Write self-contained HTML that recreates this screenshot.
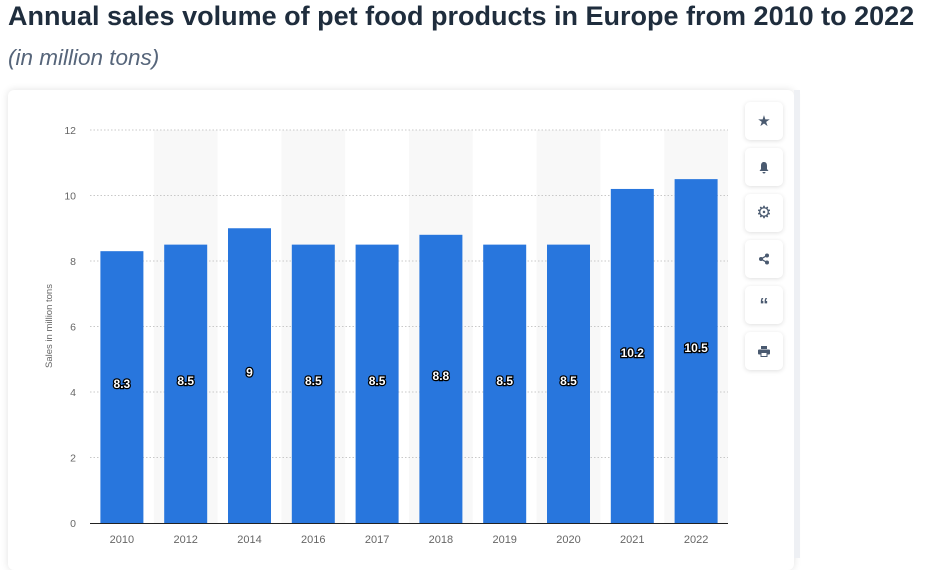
<!DOCTYPE html>
<html><head><meta charset="utf-8"><style>
body{margin:0;width:927px;height:558px;overflow:hidden;background:#fff;font-family:"Liberation Sans",sans-serif;position:relative}
h1{position:absolute;left:8px;top:1px;margin:0;font-size:27px;font-weight:bold;color:#1f2d3d;white-space:nowrap}
.sub{position:absolute;left:8px;top:45px;font-size:22.5px;font-style:italic;color:#56657a}
.card{position:absolute;left:8px;top:90px;width:786px;height:480px;background:#fff;border-radius:6px;box-shadow:0 0 8px rgba(0,0,0,0.12)}
.strip{position:absolute;left:794px;top:90px;width:6px;height:468px;background:#eef0f4}
.btn{position:absolute;left:745px;width:38px;height:38px;border-radius:5px;background:#fff;box-shadow:0 1px 5px rgba(0,0,0,0.13);display:flex;align-items:center;justify-content:center;color:#4a5a70;font-size:15px}
</style></head><body>
<h1>Annual sales volume of pet food products in Europe from 2010 to 2022</h1>
<div class="sub">(in million tons)</div>
<div class="card"></div>
<div class="strip"></div>
<div class="btn" style="top:102px">★</div>
<div class="btn" style="top:148px"><svg width="12" height="13" viewBox="0 0 12 13"><path d="M6 1C3.5 1 3 3 3 5v3L1.5 10h9L9 8V5C9 3 8.5 1 6 1z M4.5 11a1.5 1.5 0 0 0 3 0z" fill="#4a5a70"/></svg></div>
<div class="btn" style="top:194px;font-size:17px">⚙</div>
<div class="btn" style="top:240px"><svg width="12" height="12" viewBox="0 0 12 12"><circle cx="9" cy="2.5" r="2" fill="#4a5a70"/><circle cx="3" cy="6" r="2" fill="#4a5a70"/><circle cx="9" cy="9.5" r="2" fill="#4a5a70"/><path d="M9 2.5L3 6L9 9.5" stroke="#4a5a70" stroke-width="1.3" fill="none"/></svg></div>
<div class="btn" style="top:286px;font-weight:bold;font-size:18px">“</div>
<div class="btn" style="top:332px"><svg width="12" height="11" viewBox="0 0 12 11"><rect x="3" y="0" width="6" height="3" fill="#4a5a70"/><rect x="0" y="3.5" width="12" height="5" rx="1" fill="#4a5a70"/><rect x="3" y="6.5" width="6" height="4" fill="#fff" stroke="#4a5a70"/></svg></div>
<svg id="chart" width="927" height="558" style="position:absolute;left:0;top:0"></svg>
<script>
const categories=["2010","2012","2014","2016","2017","2018","2019","2020","2021","2022"];
const values=[8.3,8.5,9,8.5,8.5,8.8,8.5,8.5,10.2,10.5];
const labels=["8.3","8.5","9","8.5","8.5","8.8","8.5","8.5","10.2","10.5"];
const yTicks=[0,2,4,6,8,10,12];
const svg=document.getElementById('chart');
const NS='http://www.w3.org/2000/svg';
const x0=90,x1=728,y0=523,yTop=130,yMax=12;
const band=(x1-x0)/categories.length,bw=43;
const y=v=>y0-(v/yMax)*(y0-yTop);
const xb=i=>x0+i*band;
function mk(t,a){const e=document.createElementNS(NS,t);for(const k in a)e.setAttribute(k,a[k]);svg.appendChild(e);return e;}
categories.forEach((c,i)=>{if(i%2==1){const r=mk('rect',{x:xb(i),y:yTop,width:band,height:y0-yTop,fill:'#f8f8f8'});

}});
yTicks.forEach(t=>{
if(t>0){const l=mk('line',{x1:x0,x2:x1,y1:y(t),y2:y(t),stroke:'#c8c8c8','stroke-dasharray':'1.5,2'});

}
const tx=mk('text',{x:76,y:y(t)+4,'text-anchor':'end','font-size':'10.5',fill:'#666','font-family':'Liberation Sans, sans-serif'});
tx.textContent=t;

});
categories.forEach((c,i)=>{
const cx=xb(i)+band/2;
const r=mk('rect',{x:cx-bw/2,y:y(values[i]),width:bw,height:y0-y(values[i]),fill:'#2876dd'});


const lb=mk('text',{x:cx,y:(y(values[i])+y0)/2+1,'text-anchor':'middle','font-size':'12','font-weight':'bold',fill:'#fff',stroke:'#000','stroke-width':'2.5','paint-order':'stroke','font-family':'Liberation Sans, sans-serif'});
lb.textContent=labels[i];


const xt=mk('text',{x:cx,y:543,'text-anchor':'middle','font-size':'11',fill:'#666','font-family':'Liberation Sans, sans-serif'});
xt.textContent=c;

});
const ax=mk('line',{x1:x0,x2:x1,y1:y0+0.5,y2:y0+0.5,stroke:'#222','stroke-width':'1'});


const yt=mk('text',{x:0,y:0,transform:'translate(52,326) rotate(-90)','text-anchor':'middle','font-size':'9.5',fill:'#666','font-family':'Liberation Sans, sans-serif'});
yt.textContent='Sales in million tons';


</script>
</body></html>
